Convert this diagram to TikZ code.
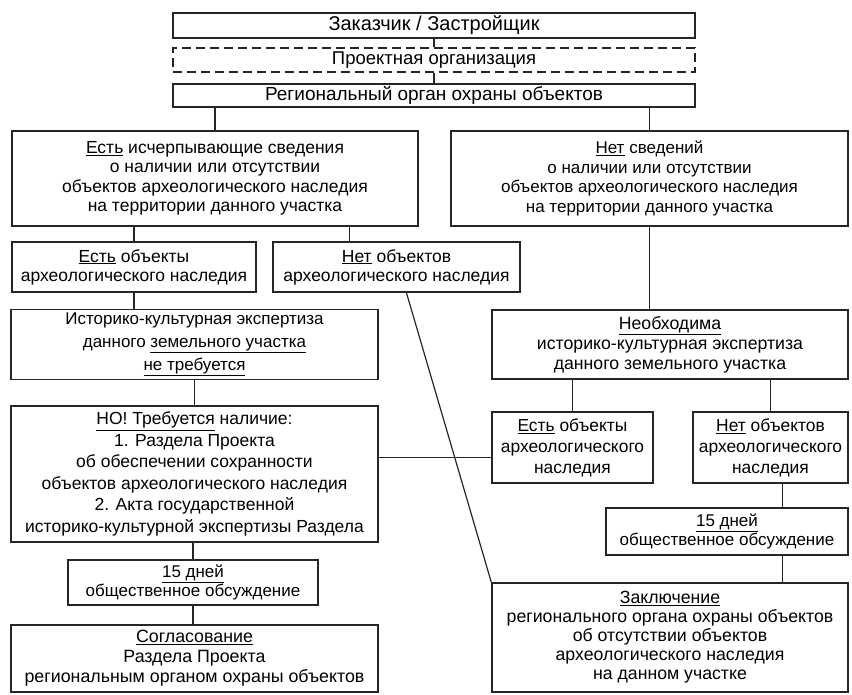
\documentclass[tikz,border=0pt]{standalone}
\usepackage{fontspec}
\setmainfont{Liberation Sans}
\usetikzlibrary{calc}

\colorlet{box edge}{black!85}
\tikzset{box/.style={draw=box edge, line width=1.4pt, inner sep=0pt, align=center,
        font=\fontsize{17.5}{19.5}\selectfont},
    fsz/.style 2 args={font=\fontsize{#1}{#2}\selectfont},
    dashbox/.style={box, dash pattern=on 9pt off 5pt},
    link/.style={draw=box edge, line width=1.2pt}}

\begin{document}
\begin{tikzpicture}[x=1pt, y=-1pt]
    \useasboundingbox (0,0) rectangle (852,694);
    % top chain
    \node[box, fsz={20}{22}, minimum width=522pt, minimum height=25pt] (zakazchik) at (434,25.5)
        {Заказчик / Застройщик};
    \node[dashbox, fsz={18.5}{20}, minimum width=522pt, minimum height=24pt] (proekt) at (434,60)
        {Проектная организация};
    \node[box, fsz={19}{20}, minimum width=522pt, minimum height=23pt] (organ) at (434,95.5)
        {Региональный орган охраны объектов};
    % left branch
    \node[box, minimum width=406pt, minimum height=95pt] (est_sved) at (215,178.5)
        {\underline{Есть} исчерпывающие сведения\\о наличии или отсутствии\\
         объектов археологического наследия\\на территории данного участка};
    \node[box, fsz={17.5}{19}, minimum width=244pt, minimum height=50pt] (est_obj) at (134,267)
        {\underline{Есть} объекты\\археологического наследия};
    \node[box, fsz={17.5}{19}, minimum width=247pt, minimum height=50pt] (net_obj) at (396.5,267)
        {\underline{Нет} объектов\\археологического наследия};
    \node[box, fsz={17}{23}, minimum width=367pt, minimum height=70pt] (ne_treb) at (194.5,344.5)
        {Историко-культурная экспертиза\\данного \underline{земельного участка}\\
         \underline{не требуется}};
    \node[box, fsz={17.5}{21.5}, minimum width=367pt, minimum height=136pt] (no_treb) at (194.5,474)
        {\underline{НО! Требуется} наличие:\\1. Раздела Проекта\\об обеспечении сохранности\\
         объектов археологического наследия\\2. Акта государственной\\
         историко-культурной экспертизы Раздела};
    \node[box, fsz={17}{19}, minimum width=250pt, minimum height=45pt] (dni_left) at (193,582.5)
        {\underline{15 дней}\\общественное обсуждение};
    \node[box, fsz={17.8}{20}, minimum width=367pt, minimum height=67pt] (soglas) at (194.5,658.5)
        {\underline{Согласование}\\Раздела Проекта\\региональным органом охраны объектов};
    % right branch
    \node[box, fsz={17}{19.5}, minimum width=397pt, minimum height=95pt] (net_sved) at (649.5,178.5)
        {\underline{Нет} сведений\\о наличии или отсутствии\\
         объектов археологического наследия\\на территории данного участка};
    \node[box, fsz={17.7}{20}, minimum width=356pt, minimum height=69pt] (neobh) at (670,344.5)
        {\underline{Необходима}\\историко-культурная экспертиза\\данного земельного участка};
    \node[box, fsz={17.4}{21}, minimum width=161pt, minimum height=71pt] (est_obj_r) at (572.5,447.5)
        {\underline{Есть} объекты\\археологического\\наследия};
    \node[box, fsz={17.4}{21}, minimum width=155pt, minimum height=71pt] (net_obj_r) at (770.5,447.5)
        {\underline{Нет} объектов\\археологического\\наследия};
    \node[box, fsz={17}{19}, minimum width=242pt, minimum height=47pt] (dni_right) at (727,531.5)
        {\underline{15 дней}\\общественное обсуждение};
    \node[box, fsz={17.7}{19}, minimum width=356pt, minimum height=109pt] (zakl) at (670,637.5)
        {\underline{Заключение}\\регионального органа охраны объектов\\об отсутствии объектов\\
         археологического наследия\\на данном участке};

    % connectors
    \draw[link] (zakazchik.south) -- (proekt.north);
    \draw[link] (proekt.south) -- (organ.north);
    \draw[link] (est_sved.north) -- (est_sved.north |- organ.south);
    \draw[link] (net_sved.north) -- (net_sved.north |- organ.south);
    \draw[link] (est_obj.north) -- (est_obj.north |- est_sved.south);
    \coordinate (net_top) at ($(net_obj.north west)!0.31!(net_obj.north east)$);
    \draw[link] (net_top) -- (net_top |- est_sved.south);
    \draw[link] (est_obj.south) -- (est_obj.south |- ne_treb.north);
    \draw[link] (ne_treb.south) -- (ne_treb.south |- no_treb.north);
    \draw[link] (dni_left.north) -- (dni_left.north |- no_treb.south);
    \draw[link] (dni_left.south) -- (dni_left.south |- soglas.north);
    \coordinate (net_bot) at ($(net_obj.south west)!0.54!(net_obj.south east)$);
    \draw[link] (net_bot) -- (zakl.north west);
    \draw[link] ([yshift=-10pt]est_obj_r.west) -- ([yshift=-10pt]est_obj_r.west -| no_treb.east);
    \draw[link] (net_sved.south) -- (net_sved.south |- neobh.north);
    \draw[link] (est_obj_r.north) -- (est_obj_r.north |- neobh.south);
    \draw[link] (net_obj_r.north) -- (net_obj_r.north |- neobh.south);
    \coordinate (right_x) at ($(net_obj_r.south)+(12,0)$);
    \draw[link] (right_x) -- (right_x |- dni_right.north);
    \draw[link] (right_x |- dni_right.south) -- (right_x |- zakl.north);
\end{tikzpicture}
\end{document}
